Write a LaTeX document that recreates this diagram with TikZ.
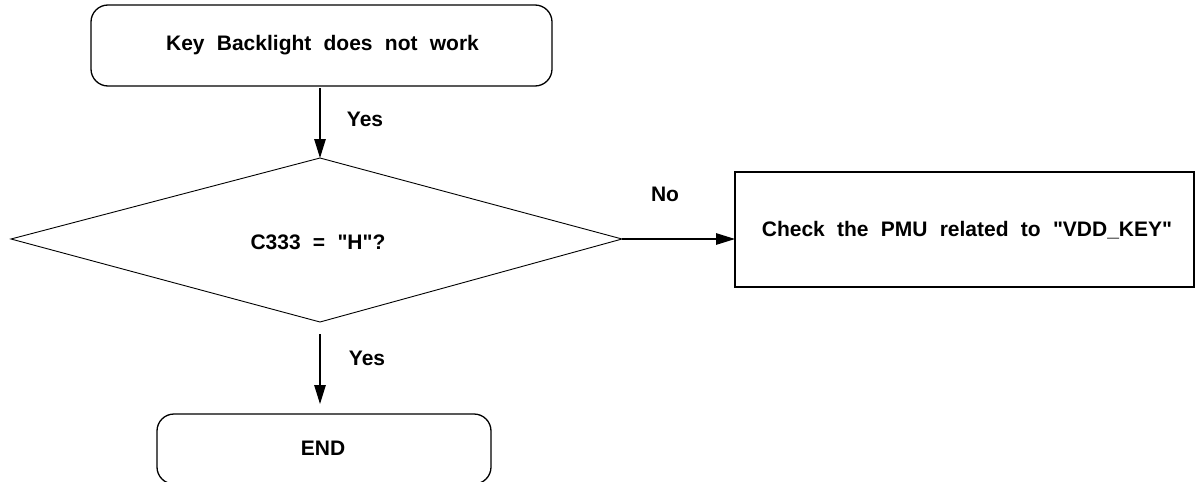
\documentclass[tikz,border=0pt]{standalone}
\usepackage{fontspec}
\setmainfont{Liberation Sans}[WordSpace=2.1]
\usetikzlibrary{arrows.meta}
\begin{document}
\begin{tikzpicture}[x=1pt,y=-1pt,
  txt/.style={font=\fontsize{21}{24}\selectfont\bfseries, inner sep=0pt},
  boxline/.style={draw=black, line width=1.3pt},
  flow/.style={line width=1.2pt, -{Triangle[length=19pt,width=11.5pt]}},
  lbl/.style={font=\fontsize{21}{24}\selectfont\bfseries, inner sep=0pt}]
\useasboundingbox (0,0) rectangle (1195,482);
% start box
\draw[boxline, rounded corners=17pt] (91,5) rectangle (552,86);
\node[txt] (start) at (322.5,45.5) {Key Backlight does not work};
% decision
\coordinate (dT) at (320,158);
\coordinate (dB) at (320,322);
\coordinate (dL) at (11,239);
\coordinate (dR) at (622,239);
\draw[line width=0.9pt, line join=miter] (dT) -- (dR) -- (dB) -- (dL) -- cycle;
\node[txt] (dec) at (318,242) {C333 = \textquotedbl H\textquotedbl?};
% check box
\draw[boxline] (735,172) rectangle (1194,287);
\node[txt] (check) at (967,230) {Check the PMU related to \textquotedbl VDD\_KEY\textquotedbl};
\coordinate (checkW) at (735,239);
% end box
\draw[boxline, rounded corners=17pt] (157,414) rectangle (491,484);
\node[txt] (endn) at (323,448) {END};
% connectors
\coordinate (a1s) at (320,88);
\coordinate (a2s) at (320,334);
\coordinate (a2e) at (320,404);
\draw[flow] (a1s) -- (dT);
\draw[flow] (dR) -- (checkW);
\draw[flow] (a2s) -- (a2e);
% labels
\node[lbl] (y1) at (365,119) {Yes};
\node[lbl] (no) at (665,194) {No};
\node[lbl] (y2) at (367,358) {Yes};
\end{tikzpicture}
\end{document}
